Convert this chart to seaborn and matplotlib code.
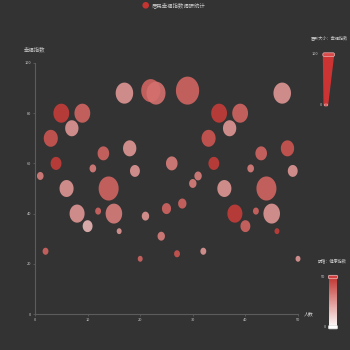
import numpy as np
import pandas as pd
import matplotlib
matplotlib.use("Agg")
import matplotlib.pyplot as plt
import seaborn as sns
from matplotlib.path import Path
from matplotlib.colors import LinearSegmentedColormap
from matplotlib.patches import Polygon, FancyBboxPatch, Circle

# ---- data ----
people = [17, 22, 23, 29, 47, 5, 9, 35, 39, 7, 37, 3, 33, 13, 43, 18, 48, 4, 34, 26,
          11, 41, 19, 49, 1, 31, 30, 6, 36, 14, 44, 28, 25, 8, 12, 15, 38, 42, 45, 21,
          10, 40, 16, 46, 24, 2, 32, 27, 20, 50]
happiness = [88, 89, 88, 89, 88, 80, 80, 80, 80, 74, 74, 70, 70, 64, 64, 66, 66, 60, 60, 60,
             58, 58, 57, 57, 55, 55, 52, 50, 50, 50, 50, 44, 42, 40, 41, 40, 40, 41, 40, 39,
             35, 35, 33, 33, 31, 25, 25, 24, 22, 22]
size_index = [70, 78, 78, 100, 70, 61, 61, 61, 61, 48, 48, 52, 52, 39, 39, 48, 48, 35, 35, 39,
              13, 13, 30, 30, 13, 17, 17, 52, 52, 83, 83, 22, 26, 57, 9, 65, 57, 9, 65, 17,
              30, 30, 4, 4, 17, 9, 9, 9, 4, 4]
health = [26, 38, 35, 38, 26, 48, 38, 48, 38, 26, 26, 42, 42, 38, 38, 26, 42, 48, 48, 32,
          32, 32, 26, 26, 32, 32, 32, 26, 26, 38, 38, 38, 38, 26, 38, 32, 48, 38, 26, 26,
          18, 38, 26, 48, 32, 38, 26, 42, 38, 26]
x_ticks = [0, 10, 20, 30, 40, 50]
y_ticks = [0, 20, 40, 60, 80, 100]
title_text = "居民幸福指数调研统计"
y_name = "幸福指数"
x_name = "人数"
size_label = "圆形大小：幸福指数"
color_label = "明暗：健康指数"

BG = "#333333"
RED = "#c23531"
TXT = "#cccccc"

sns.set_style("dark")
plt.rcParams['font.family'] = ['Noto Sans CJK SC', 'DejaVu Sans']

fig = plt.figure(figsize=(3.5, 3.5), dpi=100, facecolor=BG)
ax = fig.add_axes([35/350, 36/350, 263/350, 251/350])
ax.set_facecolor(BG)

df = pd.DataFrame({"people": people, "happy": happiness,
                   "size": size_index, "health": health})

# ellipse marker (bubbles are slightly taller than wide)
th = np.linspace(0, 2*np.pi, 80)
ell = Path(np.column_stack([0.83*np.cos(th), np.sin(th)]), closed=True)
h_px = 5 + 0.23*df["size"].to_numpy()
s_arr = (h_px*72/100.0)**2

cmap = LinearSegmentedColormap.from_list("wr", ["#ffffff", RED])
sns.scatterplot(data=df, x="people", y="happy", hue="health", palette=cmap,
                hue_norm=(0, 50), s=s_arr, marker=ell, linewidth=0, alpha=0.9,
                legend=False, ax=ax, zorder=3)
for coll in ax.collections:
    coll.set_clip_on(False)

ax.set_xlim(0, 50)
ax.set_ylim(0, 100)
ax.set_xticks(x_ticks)
ax.set_yticks(y_ticks)
ax.set_xlabel("")
ax.set_ylabel("")
ax.grid(False)
for sp in ["top", "right"]:
    ax.spines[sp].set_visible(False)
for sp in ["left", "bottom"]:
    ax.spines[sp].set_visible(True)
    ax.spines[sp].set_color("#5c5c5c")
    ax.spines[sp].set_linewidth(0.8)
ax.tick_params(axis="both", colors="#5c5c5c", labelcolor=TXT, length=1.5,
               width=0.6, labelsize=2.8, pad=1.2, direction="out")
ax.tick_params(axis="x", bottom=True)
ax.tick_params(axis="y", left=True)

# overlay in pixel coords
ov = fig.add_axes([0, 0, 1, 1], facecolor="none")
ov.set_xlim(0, 350)
ov.set_ylim(350, 0)
ov.axis("off")

# legend title
ov.add_patch(Circle((145.7, 5.3), 2.6, color=RED, zorder=2))
ov.text(151.5, 5.3, title_text, fontsize=3.9, color=TXT, va="center", ha="left")
# axis names
ov.text(24, 50, y_name, fontsize=3.9, color=TXT, va="center", ha="left")
ov.text(304, 314, x_name, fontsize=3.5, color=TXT, va="center", ha="left")

# size visual map
ov.text(310.5, 38.3, size_label, fontsize=3.0, color=TXT, va="center", ha="left")
ov.add_patch(Polygon([(323.5, 55), (333.5, 55), (327.5, 105), (324.2, 105)],
                     closed=True, color="#cc3333", zorder=2))
ov.add_patch(FancyBboxPatch((322.8, 52.8), 11.8, 3.6, boxstyle="round,pad=0,rounding_size=1.5",
                            fc="#d94a4a", ec="#e8b0b0", lw=0.5, zorder=3))
ov.add_patch(FancyBboxPatch((324.3, 104), 3.4, 2.0, boxstyle="round,pad=0,rounding_size=0.8",
                            fc="#d94a4a", ec="#e8b0b0", lw=0.4, zorder=3))
ov.text(318.5, 54.3, "100", fontsize=2.8, color=TXT, va="center", ha="right")
ov.text(322.5, 105, "0", fontsize=2.8, color=TXT, va="center", ha="right")

# colour visual map
ov.text(318, 260.7, color_label, fontsize=3.0, color=TXT, va="center", ha="left")
grad = np.linspace(50, 0, 100).reshape(-1, 1)
ov.imshow(grad, cmap=cmap, vmin=0, vmax=50, extent=(329.3, 336.7, 328, 277),
          aspect="auto", zorder=2)
ov.set_xlim(0, 350)
ov.set_ylim(350, 0)
ov.add_patch(FancyBboxPatch((328.5, 275.3), 9, 3.4, boxstyle="round,pad=0,rounding_size=1",
                            fc="#d04040", ec="#f0c0c0", lw=0.5, zorder=3))
ov.add_patch(FancyBboxPatch((328.5, 325.5), 9, 3.4, boxstyle="round,pad=0,rounding_size=1",
                            fc="#ffffff", ec="#dddddd", lw=0.5, zorder=3))
ov.text(325, 277, "50", fontsize=2.8, color=TXT, va="center", ha="right")
ov.text(326, 327.3, "0", fontsize=2.8, color=TXT, va="center", ha="right")

fig.savefig("out.png", dpi=100, facecolor=BG)
